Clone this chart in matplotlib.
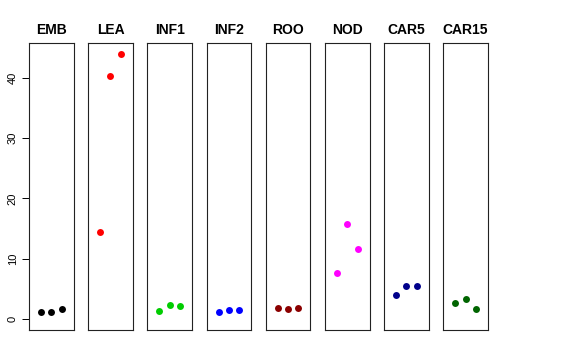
import numpy as np
import matplotlib.pyplot as plt

plt.rcParams['font.family'] = ['Liberation Sans', 'DejaVu Sans']

tejidos = ['EMB', 'LEA', 'INF1', 'INF2', 'ROO', 'NOD', 'CAR5', 'CAR15']
valores = [
    [1.2, 1.25, 1.65],
    [14.5, 40.3, 43.9],
    [1.37, 2.36, 2.15],
    [1.27, 1.48, 1.48],
    [1.87, 1.7, 1.93],
    [7.65, 15.7, 11.6],
    [3.96, 5.55, 5.5],
    [2.64, 3.3, 1.8],
]
cores = ['black', 'red', '#00CD00', 'blue', '#8B0000', 'magenta', '#00008B', '#006400']

ymax = max(max(v) for v in valores)
ext = 0.04 * ymax

fig, axs = plt.subplots(1, 8, figsize=(5.76, 3.6), dpi=100)
fig.subplots_adjust(left=0.0503, right=0.847, top=0.8797, bottom=0.0833, wspace=0.326)

x = np.arange(1, 4)
for i, ax in enumerate(axs):
    ax.plot(x, valores[i], 'o', color=cores[i], markersize=5, markeredgewidth=0)
    ax.set_xlim(0 - 0.16, 4 + 0.16)
    ax.set_ylim(0 - ext, ymax + ext)
    ax.set_title(tejidos[i], fontsize=10, fontweight='bold', pad=7)
    ax.set_xticks([])
    for s in ax.spines.values():
        s.set_linewidth(0.8)
        s.set_color('#222222')
    if i == 0:
        ax.set_yticks([0, 10, 20, 30, 40])
        ax.tick_params(axis='y', labelsize=8, length=5, width=0.7, pad=3)
        for t in ax.get_yticklabels():
            t.set_rotation(90)
            t.set_va('center')
    else:
        ax.set_yticks([])

plt.savefig('out.png', dpi=100)
